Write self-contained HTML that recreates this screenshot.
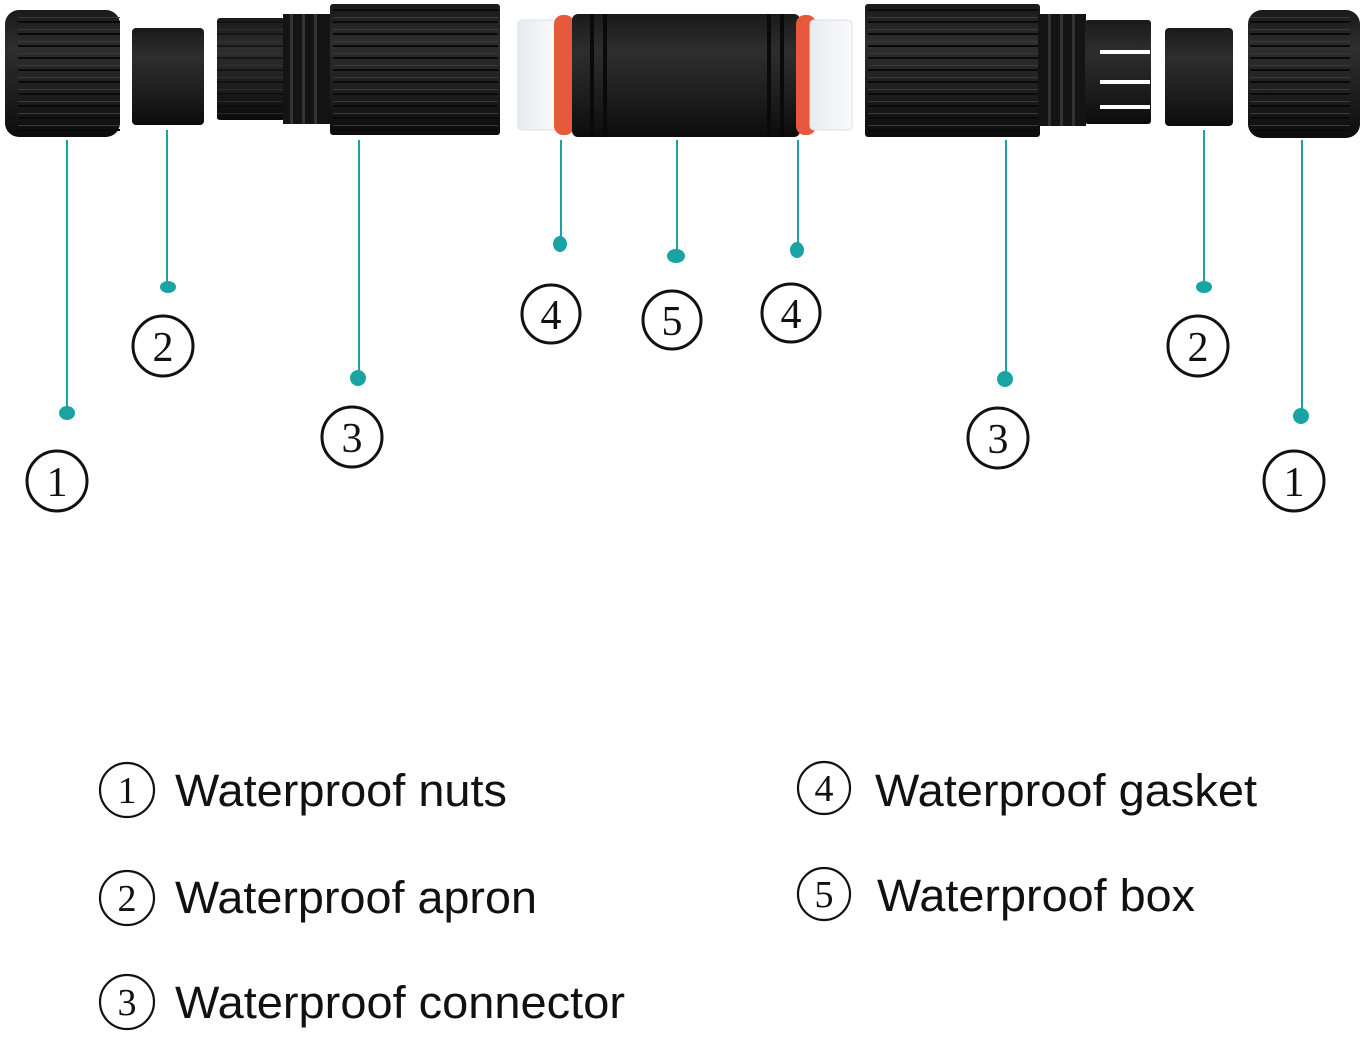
<!DOCTYPE html>
<html><head><meta charset="utf-8"><style>
html,body{margin:0;padding:0;background:#fff;}
svg{display:block;}
</style></head><body>
<svg width="1364" height="1038" viewBox="0 0 1364 1038" xmlns="http://www.w3.org/2000/svg">
<defs>
<linearGradient id="blk" x1="0" y1="0" x2="0" y2="1">
<stop offset="0" stop-color="#1a1a1a"/><stop offset="0.3" stop-color="#2e2e2e"/><stop offset="0.7" stop-color="#1c1c1c"/><stop offset="1" stop-color="#0c0c0c"/>
</linearGradient>
<pattern id="rib" width="10" height="12" patternUnits="userSpaceOnUse">
<rect width="10" height="12" fill="none"/><rect y="9" width="10" height="2" fill="#0a0a0a"/><rect y="5" width="10" height="1" fill="#3a3a3a"/>
</pattern>
<linearGradient id="wht" x1="0" y1="0" x2="1" y2="0">
<stop offset="0" stop-color="#e8ecef"/><stop offset="1" stop-color="#fafafa"/>
</linearGradient>
</defs>
<rect width="1364" height="1038" fill="#fff"/>

<!-- left side parts -->
<rect x="5" y="10" width="115" height="127" rx="14" fill="url(#blk)"/>
<rect x="18" y="12" width="102" height="123" fill="url(#rib)"/>
<rect x="132" y="28" width="72" height="97" rx="4" fill="url(#blk)"/>
<rect x="217" y="18" width="68" height="102" rx="3" fill="url(#blk)"/>
<rect x="217" y="18" width="68" height="102" fill="url(#rib)" opacity="0.6"/>
<rect x="283" y="14" width="48" height="110" fill="#141414"/>
<g fill="#333"><rect x="290" y="14" width="3" height="110"/><rect x="302" y="14" width="3" height="110"/><rect x="314" y="14" width="3" height="110"/></g>
<rect x="330" y="4" width="170" height="131" rx="3" fill="url(#blk)"/>
<rect x="333" y="6" width="165" height="127" fill="url(#rib)"/>

<!-- center -->
<rect x="518" y="20" width="42" height="110" rx="4" fill="url(#wht)" stroke="#dde" stroke-width="1"/>
<rect x="554" y="15" width="20" height="120" rx="9" fill="#e8583c"/>
<rect x="572" y="14" width="228" height="123" rx="6" fill="url(#blk)"/>
<g fill="#0a0a0a"><rect x="590" y="14" width="4" height="123"/><rect x="603" y="14" width="4" height="123"/><rect x="767" y="14" width="4" height="123"/><rect x="780" y="14" width="4" height="123"/></g>
<rect x="796" y="15" width="20" height="120" rx="9" fill="#e8583c"/>
<rect x="810" y="20" width="42" height="110" rx="4" fill="url(#wht)" stroke="#dde" stroke-width="1"/>

<!-- right side parts -->
<rect x="865" y="4" width="175" height="133" rx="3" fill="url(#blk)"/>
<rect x="868" y="6" width="170" height="129" fill="url(#rib)"/>
<rect x="1038" y="14" width="48" height="112" fill="#141414"/>
<g fill="#333"><rect x="1048" y="14" width="3" height="112"/><rect x="1060" y="14" width="3" height="112"/><rect x="1072" y="14" width="3" height="112"/></g>
<rect x="1085" y="20" width="66" height="104" rx="3" fill="url(#blk)"/>
<g fill="#fff"><rect x="1100" y="50" width="50" height="4"/><rect x="1100" y="80" width="50" height="4"/><rect x="1100" y="105" width="50" height="4"/></g>
<rect x="1165" y="28" width="68" height="98" rx="4" fill="url(#blk)"/>
<rect x="1248" y="10" width="112" height="128" rx="14" fill="url(#blk)"/>
<rect x="1250" y="12" width="100" height="124" fill="url(#rib)"/>

<!-- leader lines -->
<g stroke="#1aa3a3" stroke-width="2" fill="#1aa3a3">
<line x1="67" y1="140" x2="67" y2="410"/><ellipse cx="67" cy="413" rx="8" ry="7" stroke="none"/>
<line x1="167" y1="130" x2="167" y2="284"/><ellipse cx="168" cy="287" rx="8" ry="6" stroke="none"/>
<line x1="359" y1="140" x2="359" y2="375"/><ellipse cx="358" cy="378" rx="8" ry="8" stroke="none"/>
<line x1="561" y1="140" x2="561" y2="240"/><ellipse cx="560" cy="244" rx="7" ry="8" stroke="none"/>
<line x1="677" y1="140" x2="677" y2="252"/><ellipse cx="676" cy="256" rx="9" ry="7" stroke="none"/>
<line x1="798" y1="140" x2="798" y2="246"/><ellipse cx="797" cy="250" rx="7" ry="8" stroke="none"/>
<line x1="1006" y1="140" x2="1006" y2="376"/><ellipse cx="1005" cy="379" rx="8" ry="8" stroke="none"/>
<line x1="1204" y1="130" x2="1204" y2="284"/><ellipse cx="1204" cy="287" rx="8" ry="6" stroke="none"/>
<line x1="1302" y1="140" x2="1302" y2="412"/><ellipse cx="1301" cy="416" rx="8" ry="8" stroke="none"/>
</g>

<!-- callout numbers -->
<g fill="none" stroke="#111" stroke-width="3">
<circle cx="57" cy="481" r="30"/><circle cx="163" cy="346" r="30"/><circle cx="352" cy="437" r="30"/>
<circle cx="551" cy="314" r="29"/><circle cx="672" cy="320" r="29"/><circle cx="791" cy="313" r="29"/>
<circle cx="998" cy="438" r="30"/><circle cx="1198" cy="346" r="30"/><circle cx="1294" cy="481" r="30"/>
</g>
<g font-family="Liberation Serif, serif" font-size="42" fill="#111" text-anchor="middle">
<text x="57" y="496">1</text><text x="163" y="361">2</text><text x="352" y="452">3</text>
<text x="551" y="329">4</text><text x="672" y="335">5</text><text x="791" y="328">4</text>
<text x="998" y="453">3</text><text x="1198" y="361">2</text><text x="1294" y="496">1</text>
</g>

<!-- legend -->
<g fill="none" stroke="#111" stroke-width="2.2">
<circle cx="127" cy="790" r="27"/><circle cx="127" cy="898" r="27"/><circle cx="127" cy="1002" r="27"/>
<circle cx="824" cy="788" r="26"/><circle cx="824" cy="894" r="26"/>
</g>
<g font-family="Liberation Serif, serif" font-size="38" fill="#111" text-anchor="middle">
<text x="127" y="803">1</text><text x="127" y="911">2</text><text x="127" y="1015">3</text>
<text x="824" y="801">4</text><text x="824" y="907">5</text>
</g>
<g font-family="Liberation Sans, sans-serif" font-size="45" fill="#111">
<text x="175" y="806" textLength="332" lengthAdjust="spacingAndGlyphs">Waterproof nuts</text>
<text x="175" y="913" textLength="362" lengthAdjust="spacingAndGlyphs">Waterproof apron</text>
<text x="175" y="1018" textLength="450" lengthAdjust="spacingAndGlyphs">Waterproof connector</text>
<text x="875" y="806" textLength="382" lengthAdjust="spacingAndGlyphs">Waterproof gasket</text>
<text x="877" y="911" textLength="318" lengthAdjust="spacingAndGlyphs">Waterproof box</text>
</g>
</svg>
</body></html>
